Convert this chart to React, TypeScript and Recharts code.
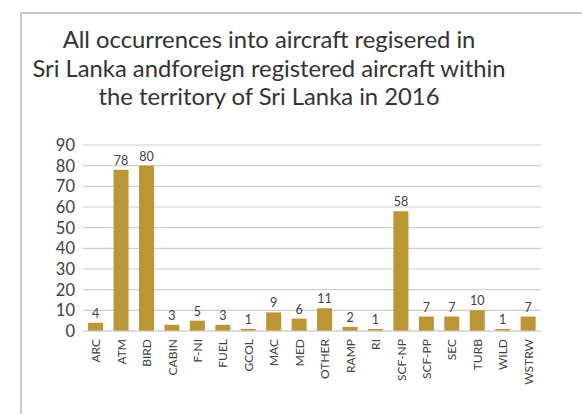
import { Bar, BarChart, CartesianGrid, LabelList, XAxis, YAxis } from "recharts";

const categories = [
  "ARC", "ATM", "BIRD", "CABIN", "F-NI", "FUEL", "GCOL", "MAC", "MED", "OTHER",
  "RAMP", "RI", "SCF-NP", "SCF-PP", "SEC", "TURB", "WILD", "WSTRW",
];
const occurrences = [4, 78, 80, 3, 5, 3, 1, 9, 6, 11, 2, 1, 58, 7, 7, 10, 1, 7];
const yTicks = [0, 10, 20, 30, 40, 50, 60, 70, 80, 90];
const titleLines = [
  "All occurrences into aircraft regisered in",
  "Sri Lanka andforeign registered aircraft within",
  "the territory of Sri Lanka in 2016",
];

const data = categories.map((name, i) => ({ name, value: occurrences[i] }));

const FONT = "Lato, 'Open Sans', sans-serif";
const TEXT = "#404040";

function CategoryTick({ x, y, payload }: any) {
  return (
    <text
      x={x}
      y={y}
      transform={`rotate(-90, ${x}, ${y})`}
      textAnchor="end"
      dominantBaseline="central"
      fontSize={12}
      fontFamily={FONT}
      fill={TEXT}
    >
      {payload.value}
    </text>
  );
}

export default function App() {
  return (
    <div style={{ position: "relative", width: 582, height: 414, overflow: "hidden", background: "#fff", fontFamily: FONT }}>
      <style>{"body{margin:0}"}</style>
      <div
        style={{
          position: "absolute",
          left: 20,
          top: 12,
          width: 600,
          height: 440,
          borderTop: "2px solid #c8c8c8",
          borderLeft: "2px solid #c8c8c8",
        }}
      />
      <div
        style={{
          position: "absolute",
          left: 0,
          top: 25,
          width: 538,
          textAlign: "center",
          fontSize: 23.8,
          lineHeight: "28.5px",
          color: "#333",
        }}
      >
        {titleLines.map((t) => (
          <div key={t}>{t}</div>
        ))}
      </div>
      <div style={{ position: "absolute", left: 0, top: 0 }}>
        <BarChart
          width={582}
          height={414}
          data={data}
          margin={{ top: 145, right: 41, bottom: 0, left: 20 }}
          barCategoryGap="20%"
        >
          <CartesianGrid vertical={false} stroke="#cfcfcf" strokeWidth={1.2} />
          <XAxis
            dataKey="name"
            interval={0}
            tickLine={false}
            axisLine={{ stroke: "#cfcfcf", strokeWidth: 1.2 }}
            tick={<CategoryTick />}
            height={83}
          />
          <YAxis
            width={63}
            domain={[0, 90]}
            ticks={yTicks}
            interval={0}
            tickLine={false}
            axisLine={false}
            tick={{ fontSize: 16.5, fill: TEXT, fontFamily: FONT }}
          />
          <Bar dataKey="value" fill="#bc9535" isAnimationActive={false}>
            <LabelList dataKey="value" position="top" offset={5} fontSize={12.5} fill={TEXT} fontFamily={FONT} />
          </Bar>
        </BarChart>
      </div>
    </div>
  );
}
